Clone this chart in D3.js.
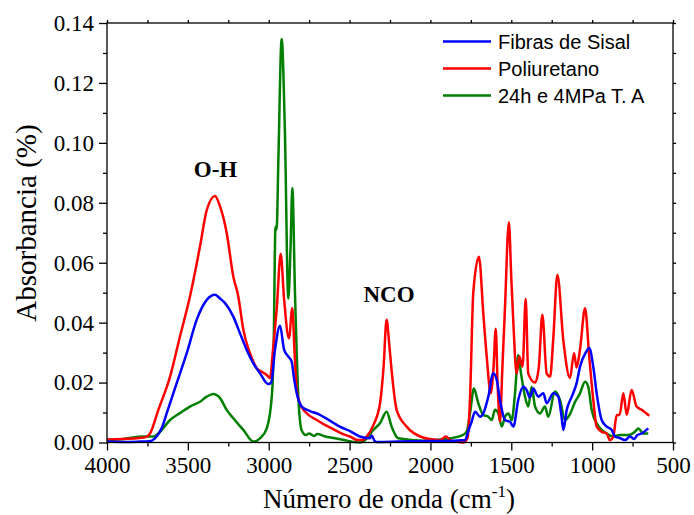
<!DOCTYPE html>
<html><head><meta charset="utf-8">
<script src="https://cdn.jsdelivr.net/npm/d3@7"></script>
<style>body{margin:0;background:#fff}svg{display:block}</style>
</head><body><svg id="chart" width="694" height="515"></svg>
<script>
const xTicks = [4000,3500,3000,2500,2000,1500,1000,500];
const yTicks = [0,0.02,0.04,0.06,0.08,0.10,0.12,0.14];
const seriesNames = ["Fibras de Sisal","Poliuretano","24h e 4MPa T. A"];
const seriesColors = ["#0000ff","#ff0000","#007f00"];
const sisalWn = [4000,3900,3800,3740,3703,3660,3631,3569,3507,3445,3383,3332,3300,3270,3219,3178,3136,3095,3054,3003,2985,2961,2930,2905,2879,2858,2845,2831,2796,2745,2693,2650,2601,2560,2497,2436,2374,2363,2345,2333,2200,2000,1850,1786,1765,1745,1724,1693,1673,1642,1611,1590,1570,1539,1508,1487,1457,1426,1405,1385,1364,1333,1302,1281,1240,1209,1190,1178,1157,1126,1096,1075,1040,1018,993,972,941,910,879,859,830,797,766,740,720,694,653];
const sisalAbs = [0.0003,0.0002,0.0003,0.0004,0.0014,0.005,0.0097,0.0198,0.0298,0.041,0.0476,0.0493,0.048,0.0465,0.042,0.0365,0.0309,0.0264,0.0231,0.0195,0.0200,0.031,0.0390,0.031,0.0287,0.0270,0.022,0.0175,0.012,0.0105,0.0095,0.0082,0.0066,0.0053,0.0038,0.002,0.0014,0.0023,0.0005,0.0002,0.0003,0.0005,0.0006,0.0008,0.004,0.007,0.0103,0.0086,0.0097,0.0153,0.0231,0.0209,0.0142,0.0075,0.0069,0.0053,0.0142,0.0186,0.0175,0.015,0.018,0.0153,0.0164,0.0131,0.0164,0.0153,0.009,0.0042,0.0109,0.0153,0.0198,0.0253,0.030,0.0315,0.0253,0.0164,0.0075,0.0053,0.0042,0.002,0.0015,0.0008,0.002,0.0012,0.0025,0.003,0.0047];
const puWn = [4000,3900,3800,3760,3734,3683,3610,3549,3487,3425,3383,3332,3301,3260,3219,3188,3157,3116,3074,3040,3012,2992,2975,2950,2926,2905,2875,2854,2840,2827,2807,2770,2703,2650,2602,2540,2497,2450,2420,2394,2353,2312,2290,2271,2255,2240,2209,2147,2064,1980,1941,1904,1880,1797,1770,1755,1735,1700,1673,1652,1627,1610,1596,1585,1570,1555,1539,1515,1500,1487,1467,1450,1430,1411,1395,1353,1330,1308,1281,1260,1240,1215,1178,1137,1112,1096,1075,1044,1018,993,972,941,910,890,869,848,830,807,786,756,725,694,647];
const puAbs = [0.001,0.0012,0.0015,0.0018,0.003,0.0108,0.022,0.0353,0.0487,0.0654,0.0776,0.0823,0.0788,0.070,0.0554,0.0487,0.0376,0.0298,0.0248,0.0235,0.0225,0.0215,0.030,0.045,0.063,0.048,0.0348,0.0448,0.030,0.0175,0.013,0.010,0.0075,0.0058,0.0045,0.0028,0.002,0.0008,0.0008,0.002,0.0058,0.013,0.025,0.041,0.033,0.024,0.0109,0.0053,0.002,0.001,0.0008,0.002,0.0008,0.0,0.0015,0.015,0.05,0.062,0.043,0.0287,0.0164,0.025,0.038,0.02,0.0069,0.025,0.045,0.0735,0.055,0.0398,0.023,0.0287,0.0253,0.048,0.023,0.020,0.025,0.0426,0.023,0.022,0.035,0.056,0.034,0.0215,0.0298,0.025,0.031,0.0448,0.0287,0.0142,0.0053,0.0036,0.003,0.0008,0.002,0.0092,0.0092,0.0164,0.0092,0.0175,0.012,0.0109,0.0089];
const taWn = [4000,3900,3776,3714,3672,3610,3549,3487,3425,3383,3342,3301,3260,3219,3157,3095,3054,3012,2981,2970,2958,2951,2940,2920,2900,2879,2865,2854,2837,2817,2796,2770,2750,2720,2700,2650,2600,2550,2436,2400,2353,2312,2271,2240,2199,2044,1879,1800,1776,1755,1731,1704,1673,1642,1621,1601,1580,1559,1539,1518,1497,1477,1457,1440,1415,1395,1374,1353,1322,1292,1271,1230,1199,1168,1137,1106,1075,1044,1024,1003,972,941,910,869,828,776,735,714,684,653];
const taAbs = [0.0008,0.0012,0.002,0.002,0.0036,0.0075,0.0098,0.012,0.0136,0.0153,0.0162,0.0148,0.0109,0.0081,0.0042,0.0003,0.0014,0.0047,0.0153,0.030,0.072,0.071,0.095,0.1347,0.104,0.048,0.065,0.0849,0.0487,0.0153,0.0040,0.0025,0.003,0.0022,0.0028,0.002,0.0015,0.001,0.0,0.001,0.0042,0.0064,0.0103,0.0053,0.0014,0.0006,0.0014,0.0025,0.0036,0.0098,0.018,0.0131,0.0092,0.0086,0.0075,0.0109,0.0097,0.0053,0.0086,0.0097,0.0075,0.0164,0.0292,0.0231,0.0153,0.012,0.0186,0.012,0.0097,0.012,0.0086,0.017,0.0142,0.0075,0.0095,0.0135,0.0164,0.0203,0.0186,0.0109,0.0064,0.0042,0.003,0.002,0.0025,0.0025,0.0036,0.0047,0.003,0.003];

const W = 694, H = 515;
const m = {left:107, right:21, top:23, bottom:72.5};
const svg = d3.select("#chart");
const x = d3.scaleLinear().domain([4000,500]).range([m.left, W-m.right]);
const y = d3.scaleLinear().domain([0,0.14]).range([H-m.bottom, m.top]);
const serif = "'Liberation Serif','Times New Roman',serif";
const sans = "'Liberation Sans',Arial,sans-serif";

const series = [
  {wn: taWn, abs: taAbs, color: seriesColors[2]},
  {wn: puWn, abs: puAbs, color: seriesColors[1]},
  {wn: sisalWn, abs: sisalAbs, color: seriesColors[0]}
];
const line = d3.line().x(d=>x(d[0])).y(d=>y(d[1])).curve(d3.curveMonotoneX);
const plot = svg.append("g");
series.forEach(s=>{
  plot.append("path").datum(s.wn.map((w,i)=>[w,s.abs[i]]))
    .attr("d", line).attr("fill","none").attr("stroke", s.color)
    .attr("stroke-width", 2.5).attr("stroke-linejoin","round");
});

// frame
svg.append("rect").attr("x", m.left).attr("y", m.top)
  .attr("width", W-m.left-m.right).attr("height", H-m.top-m.bottom)
  .attr("fill","none").attr("stroke","#000").attr("stroke-width",1.3);

// axes
const minorX = d3.range(4000, 499, -250);
const minorY = d3.range(0, 0.1401, 0.01);
const gx = svg.append("g").attr("transform",`translate(0,${H-m.bottom})`)
  .call(d3.axisBottom(x).tickValues(xTicks).tickSize(8).tickPadding(6).tickFormat(d3.format("d")));
gx.select(".domain").remove();
gx.selectAll("text").attr("font-family", serif).attr("font-size", 23).attr("fill","#000");
gx.selectAll("line").attr("stroke-width",1.3);
const gxm = svg.append("g").attr("transform",`translate(0,${H-m.bottom})`)
  .call(d3.axisBottom(x).tickValues(minorX.filter(v=>v%500!==0)).tickSize(4).tickFormat(""));
gxm.select(".domain").remove(); gxm.selectAll("line").attr("stroke-width",1.3);

const gy = svg.append("g").attr("transform",`translate(${m.left},0)`)
  .call(d3.axisLeft(y).tickValues(yTicks).tickSize(8).tickPadding(5).tickFormat(d3.format(".2f")));
gy.select(".domain").remove();
gy.selectAll("text").attr("font-family", serif).attr("font-size", 23).attr("fill","#000");
gy.selectAll("line").attr("stroke-width",1.3);
const gym = svg.append("g").attr("transform",`translate(${m.left},0)`)
  .call(d3.axisLeft(y).tickValues(minorY.filter((v,i)=>i%2===1)).tickSize(4).tickFormat(""));
gym.select(".domain").remove(); gym.selectAll("line").attr("stroke-width",1.3);

// top & right mirror ticks
const gt = svg.append("g").attr("transform",`translate(0,${m.top})`)
  .call(d3.axisTop(x).tickValues(minorX).tickSize(3).tickFormat(""));
gt.select(".domain").remove(); gt.selectAll("line").attr("stroke-width",1.3);
const gr = svg.append("g").attr("transform",`translate(${W-m.right},0)`)
  .call(d3.axisRight(y).tickValues(minorY).tickSize(3).tickFormat(""));
gr.select(".domain").remove(); gr.selectAll("line").attr("stroke-width",1.3);

// axis titles
const xt = svg.append("text").attr("x", (m.left + W-m.right)/2 - 1).attr("y", 508)
  .attr("text-anchor","middle").attr("font-family", serif).attr("font-size", 27).attr("fill","#000");
xt.append("tspan").text("Número de onda (cm");
xt.append("tspan").attr("font-size", 17).attr("dy", -11).text("-1");
xt.append("tspan").attr("dy", 11).text(")");

svg.append("text").attr("transform","translate(36,223) rotate(-90)")
  .attr("text-anchor","middle").attr("font-family", serif).attr("font-size", 29).attr("fill","#000")
  .text("Absorbancia (%)");

// annotations
svg.append("text").attr("x",215.5).attr("y",176.5).attr("text-anchor","middle")
  .attr("font-family", serif).attr("font-weight","bold").attr("font-size",23).text("O-H");
svg.append("text").attr("x",389).attr("y",302).attr("text-anchor","middle")
  .attr("font-family", serif).attr("font-weight","bold").attr("font-size",23).text("NCO");

// legend
const lg = svg.append("g");
seriesNames.forEach((n,i)=>{
  const by = 48.5 + i*27;
  lg.append("line").attr("x1",443).attr("x2",491).attr("y1",by-7).attr("y2",by-7)
    .attr("stroke", seriesColors[i]).attr("stroke-width",2.4);
  lg.append("text").attr("x",498).attr("y",by).attr("font-family",sans).attr("font-size",20)
    .attr("fill","#000").text(n);
});
</script></body></html>
